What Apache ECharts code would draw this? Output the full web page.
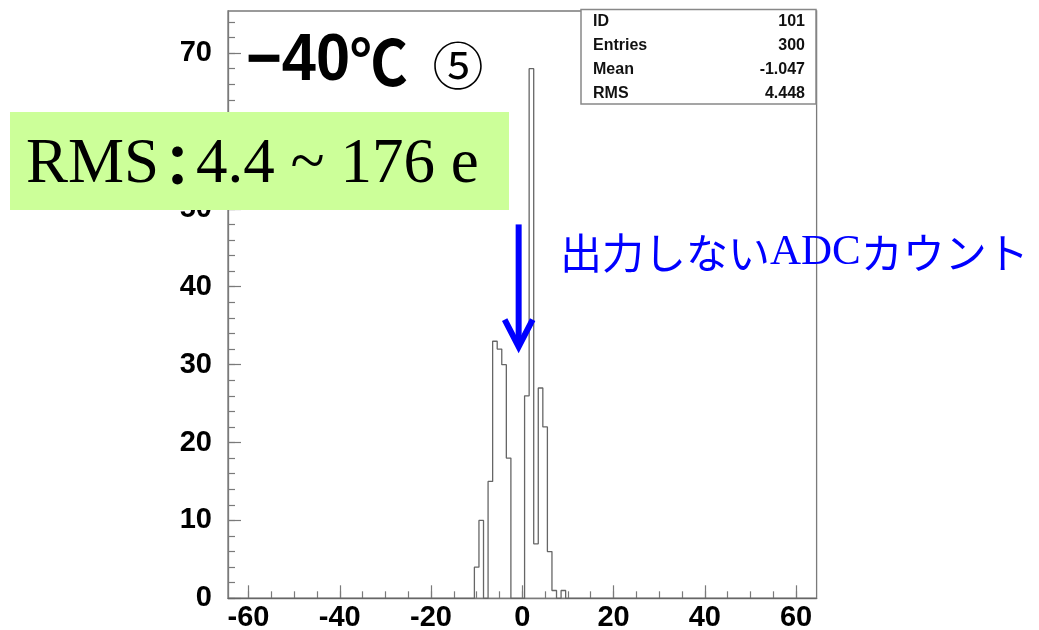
<!DOCTYPE html>
<html>
<head>
<meta charset="utf-8">
<script src="https://cdn.jsdelivr.net/npm/echarts@6/dist/echarts.min.js"></script>
<style>
  html, body { margin: 0; padding: 0; background: #ffffff; }
  #chart { width: 1039px; height: 630px; }
</style>
</head>
<body>
<div id="chart"></div>
<script>
// ADC count histogram at -40°C: bin centres (1-count bins) and entries per bin
const adcBins   = [-10, -9, -8, -7, -6, -5, -4, -3, -2, -1, 0, 1, 2, 3, 4, 5, 6, 7, 8, 9];
const binCounts = [  4, 10,  0, 15, 33, 32, 30, 18,  0,  0, 0, 26, 68, 7, 27, 22, 6, 1, 0, 1];

// Axis ticks and labels
const xMajorTicks = [-60, -40, -20, 0, 20, 40, 60];
const xMinorTicks = [-60, -55, -50, -45, -40, -35, -30, -25, -20, -15, -10, -5, 0,
                     5, 10, 15, 20, 25, 30, 35, 40, 45, 50, 55, 60];
const yMajorTicks = [0, 10, 20, 30, 40, 50, 60, 70];
const yMinorTicks = [0, 2, 4, 6, 8, 10, 12, 14, 16, 18, 20, 22, 24, 26, 28, 30, 32, 34, 36,
                     38, 40, 42, 44, 46, 48, 50, 52, 54, 56, 58, 60, 62, 64, 66, 68, 70, 72, 74];

// Histogram range and identifier
const histId = 101;
const xRange = [-64.5, 64.5];
const yTop = 75.4;

// Annotation texts
const titleText = '−40';
const runMark = '⑤';
const rmsText = 'RMS';
const rmsRange = '4.4 ~ 176 e';
const arrowNote = ['出力しない', 'ADC', 'カウント'];
// Arrow pointing at the pedestal gap, in data coordinates
const arrowAt = { x: -0.8, from: 48, to: 32.3 };

// Statistics computed from the bins
const entries = binCounts.reduce((a, b) => a + b, 0);
const mean = adcBins.reduce((s, x, i) => s + x * binCounts[i], 0) / entries;
const rms = Math.sqrt(adcBins.reduce((s, x, i) => s + (x - mean) * (x - mean) * binCounts[i], 0) / entries);

// Step outline of the histogram, from the lower edge of each bin
const outline = [[xRange[0], 0]];
adcBins.forEach((c, i) => outline.push([c - 0.5, binCounts[i]]));
outline.push([adcBins[adcBins.length - 1] + 0.5, 0]);
outline.push([xRange[1], 0]);

const frameColor = '#7a7a7a';
const axisFont = { fontFamily: 'Liberation Sans', fontWeight: 'bold', fontSize: 29, color: '#000' };

const chart = echarts.init(document.getElementById('chart'), null, { renderer: 'canvas' });

const option = {
  animation: false,
  backgroundColor: '#ffffff',
  grid: {
    left: 228, right: 222.4, top: 11, bottom: 31.7,
    outerBoundsMode: 'none', containLabel: false,
    show: true, borderColor: frameColor, borderWidth: 1.3, backgroundColor: 'transparent'
  },
  xAxis: [
    {
      type: 'value', min: xRange[0], max: xRange[1],
      axisLine: { show: true, onZero: false, lineStyle: { color: frameColor, width: 1.3 } },
      axisTick: { show: true, inside: true, length: 13, customValues: xMajorTicks,
                  lineStyle: { color: frameColor, width: 1.2 } },
      axisLabel: Object.assign({ customValues: xMajorTicks, margin: 5 }, axisFont),
      splitLine: { show: false }
    },
    {
      type: 'value', min: xRange[0], max: xRange[1], position: 'bottom',
      axisLine: { show: false, onZero: false },
      axisTick: { show: true, inside: true, length: 7, customValues: xMinorTicks,
                  lineStyle: { color: frameColor, width: 1.2 } },
      axisLabel: { show: false },
      splitLine: { show: false }
    }
  ],
  yAxis: [
    {
      type: 'value', min: 0, max: yTop,
      axisLine: { show: true, onZero: false, lineStyle: { color: frameColor, width: 1.3 } },
      axisTick: { show: true, inside: true, length: 13, customValues: yMajorTicks,
                  lineStyle: { color: frameColor, width: 1.2 } },
      axisLabel: Object.assign({ customValues: yMajorTicks, margin: 16 }, axisFont),
      splitLine: { show: false }
    },
    {
      type: 'value', min: 0, max: yTop, position: 'left',
      axisLine: { show: false, onZero: false },
      axisTick: { show: true, inside: true, length: 7, customValues: yMinorTicks,
                  lineStyle: { color: frameColor, width: 1.2 } },
      axisLabel: { show: false },
      splitLine: { show: false }
    }
  ],
  series: [
    {
      name: 'ADC',
      type: 'line',
      step: 'end',
      xAxisIndex: 0, yAxisIndex: 0,
      data: outline,
      showSymbol: false,
      symbol: 'none',
      lineStyle: { color: '#666666', width: 1.3 },
      z: 3
    }
  ]
};
chart.setOption(option);

// Arrow end points follow the axes
const pFrom = chart.convertToPixel({ xAxisIndex: 0, yAxisIndex: 0 }, [arrowAt.x, arrowAt.from]);
const pTo = chart.convertToPixel({ xAxisIndex: 0, yAxisIndex: 0 }, [arrowAt.x, arrowAt.to]);
const blue = '#0000ff';

const statRows = [
  ['ID', String(histId)],
  ['Entries', String(entries)],
  ['Mean', mean.toFixed(3)],
  ['RMS', rms.toFixed(3)]
];
const statFont = { fontFamily: 'Liberation Sans', fontWeight: 'bold', fontSize: 16, fill: '#111' };
const statElements = [
  { type: 'rect', shape: { x: 581, y: 9.5, width: 235, height: 94.5 },
    style: { fill: '#ffffff', stroke: '#888888', lineWidth: 1.5 } }
];
statRows.forEach((row, i) => {
  const y = 21.7 + i * 23.8;
  statElements.push({ type: 'text', x: 593, y: y,
    style: Object.assign({ text: row[0], align: 'left', verticalAlign: 'middle' }, statFont) });
  statElements.push({ type: 'text', x: 805, y: y,
    style: Object.assign({ text: row[1], align: 'right', verticalAlign: 'middle' }, statFont) });
});

chart.setOption({
  graphic: [
    // statistics box
    { type: 'group', z: 10, children: statElements },
    // temperature
    { type: 'text', z: 10, x: 246, y: 62, scaleX: 0.93,
      style: {
        text: '{a|' + titleText + '}{b|℃}',
        verticalAlign: 'middle', align: 'left',
        rich: {
          a: { fontFamily: 'Liberation Sans', fontWeight: 'bold', fontSize: 66, fill: '#000' },
          b: { fontFamily: 'Noto Sans CJK JP', fontWeight: 'bold', fontSize: 62, fill: '#000' }
        }
      }
    },
    // run number
    { type: 'text', z: 10, x: 458, y: 66,
      style: { text: runMark, align: 'center', verticalAlign: 'middle',
               fontFamily: 'Noto Sans CJK JP', fontSize: 51, fill: '#000' } },
    // noise summary box
    { type: 'rect', z: 20, shape: { x: 10, y: 112, width: 499, height: 98 },
      style: { fill: '#ccff99' } },
    { type: 'text', z: 21, x: 26, y: 165,
      style: {
        text: '{r|' + rmsText + '}{c|：}{r|' + rmsRange + '}',
        verticalAlign: 'middle', align: 'left',
        rich: {
          r: { fontFamily: 'Liberation Serif', fontSize: 63, fill: '#000' },
          c: { fontFamily: 'Noto Sans CJK JP', fontWeight: 'bold', fontSize: 56, fill: '#000',
               width: 37, align: 'center' }
        }
      }
    },
    // arrow and its note
    { type: 'line', z: 15, shape: { x1: pFrom[0], y1: pFrom[1], x2: pTo[0], y2: pTo[1] - 4 },
      style: { stroke: blue, lineWidth: 6 } },
    { type: 'polyline', z: 15,
      shape: { points: [[pTo[0] - 14, pTo[1] - 27], [pTo[0], pTo[1]], [pTo[0] + 14, pTo[1] - 27]] },
      style: { stroke: blue, lineWidth: 6, fill: null, lineJoin: 'miter' } },
    { type: 'text', z: 15, x: 560, y: 253,
      style: {
        text: '{j|' + arrowNote[0] + '}{e|' + arrowNote[1] + '}{j|' + arrowNote[2] + '}',
        verticalAlign: 'middle', align: 'left',
        rich: {
          j: { fontFamily: 'Noto Sans CJK JP', fontSize: 42, fill: blue },
          e: { fontFamily: 'Liberation Serif', fontSize: 43, fill: blue }
        }
      }
    }
  ]
});
</script>
</body>
</html>
